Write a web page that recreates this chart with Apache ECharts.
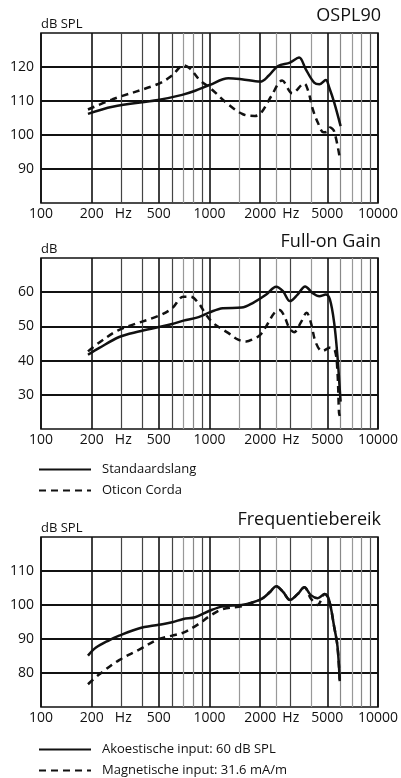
<!DOCTYPE html>
<html><head><meta charset="utf-8">
<script src="https://cdn.jsdelivr.net/npm/echarts@6/dist/echarts.min.js"></script>
<style>html,body{margin:0;padding:0;background:#fff}#c{width:401px;height:778px}</style>
</head><body><div id="c"></div>
<script>
// ---- axis ticks (Hz) ----
const freqTicks = [100, 200, 500, 1000, 2000, 5000, 10000];
const tickLabels = ['100', '200', '500', '1000', '2000', '5000', '10000'];
const minorGridHz = [300, 400, 600, 700, 800, 900, 1500, 2500, 3000, 4000, 6000, 7000, 8000, 9000];
const minorGridColors = ['#444','#444','#444','#999','#888','#444','#999','#999','#444','#999','#888','#999','#888','#555'];

// ---- titles ----
const titles = ['OSPL90', 'Full-on Gain', 'Frequentiebereik'];
const yUnits = ['dB SPL', 'dB', 'dB SPL'];
const yRanges = [[80, 130], [20, 70], [70, 120]];
const yTickValues = [[90, 100, 110, 120], [30, 40, 50, 60], [80, 90, 100, 110]];

// ---- legends ----
const legendTop = ['Standaardslang', 'Oticon Corda'];
const legendBottom = ['Akoestische input: 60 dB SPL', 'Magnetische input: 31.6 mA/m'];

// ---- OSPL90 ----
const osplStdHz = [190, 266, 495, 688, 822, 1000, 1294, 1550, 2000, 2250, 2550, 3000, 3400, 3730, 4180, 4490, 4900, 5140, 5500, 6000];
const osplStdDb = [106.2, 108.3, 110.3, 111.8, 113, 114.7, 116.7, 116.4, 115.7, 117.5, 120.3, 121.3, 122.8, 119.3, 115.4, 114.9, 116.2, 113.9, 109.5, 102.6];
const osplCordaHz = [190, 266, 495, 600, 700, 767, 880, 1000, 1294, 1580, 1860, 2030, 2330, 2700, 3100, 3650, 3850, 4100, 4400, 4750, 5000, 5200, 5500, 5950];
const osplCordaDb = [107.5, 110.5, 115, 117.5, 120.5, 119.5, 116, 114, 109, 106.1, 105.6, 106.6, 111.5, 116, 112.3, 115.1, 113, 107.6, 103.6, 100.8, 101, 102.2, 101, 92.8];

// ---- Full-on Gain ----
const gainStdHz = [190, 222, 291, 380, 500, 600, 700, 861, 1000, 1200, 1550, 1815, 2173, 2485, 2728, 3003, 3333, 3695, 4080, 4488, 4900, 5180, 5493, 5747, 5930, 6000];
const gainStdDb = [41.7, 43.7, 46.9, 48.5, 49.8, 50.7, 51.7, 52.7, 54.1, 55.3, 55.5, 56.9, 59.3, 61.6, 60.3, 57.4, 59.3, 61.7, 59.8, 58.8, 59.3, 57.9, 51.1, 41.3, 31.6, 28];
const gainCordaHz = [190, 222, 291, 500, 600, 700, 770, 861, 940, 1050, 1290, 1480, 1650, 1815, 2000, 2173, 2430, 2600, 2780, 2970, 3180, 3480, 3770, 3995, 4280, 4670, 5220, 5560, 5750, 5870, 5930];
const gainCordaDb = [42.7, 45.3, 49, 53.1, 55.3, 58.7, 58.7, 56.8, 53.9, 51, 48.1, 46.1, 45.6, 46.3, 47.5, 50.1, 54, 54.8, 53, 49.6, 48.3, 51.1, 54, 51.1, 45.2, 42.8, 43.8, 42.8, 36.5, 24.8, 23.8];

// ---- Frequentiebereik ----
const freqAcHz = [190, 212, 255, 291, 380, 500, 600, 700, 822, 1000, 1200, 1550, 1815, 2070, 2295, 2485, 2728, 3003, 3333, 3655, 3995, 4380, 4830, 5120, 5490, 5750, 5930];
const freqAcDb = [85.1, 87.5, 89.7, 91, 93.1, 94.2, 94.9, 95.9, 96.4, 98.3, 99.6, 100, 100.8, 102, 103.9, 105.5, 103.9, 101.5, 103.2, 105.2, 102.9, 102, 103.2, 101.5, 93.7, 87.8, 77.6];
const freqMagHz = [190, 222, 291, 380, 500, 600, 700, 861, 1000, 1200, 1550, 1815, 2070, 2295, 2485, 2728, 3003, 3333, 3655, 3995, 4380, 4830, 5120, 5490, 5750, 5930];
const freqMagDb = [76.7, 79.6, 83.8, 86.8, 90, 91, 91.9, 94.4, 96.7, 98.8, 99.6, 100.8, 102, 103.9, 105.5, 103.9, 101.5, 103.2, 105.2, 101.9, 100, 103.2, 101.5, 93.7, 87.8, 77.6];

const lg = v => Math.round(Math.log10(v) * 1e9) / 1e9;
const FONT = 'Open Sans';
const TXT = '#111';

const grids = [
  { left: 41, top: 33, width: 340, height: 170 },
  { left: 41, top: 258, width: 340, height: 171 },
  { left: 41, top: 537, width: 340, height: 170 }
];
const titleTops = [7, 233, 511];

function xLabel(v) {
  const f = Math.round(Math.pow(10, v));
  const i = freqTicks.indexOf(f);
  const t = i >= 0 ? tickLabels[i] : '';
  if (f === 200) return '{p1|}{n|' + t + '}{h1|Hz}';
  if (f === 2000) return '{p2|}{n|' + t + '}{h2|Hz}';
  return '{n|' + t + '}';
}
const rich = {
  n: { fontSize: 14, fontFamily: FONT, color: TXT },
  p1: { width: 28, fontSize: 14 },
  h1: { width: 28, align: 'right', fontSize: 14, fontFamily: FONT, color: TXT },
  p2: { width: 23, fontSize: 14 },
  h2: { width: 23, align: 'right', fontSize: 14, fontFamily: FONT, color: TXT }
};

const xAxes = [], yAxes = [];
grids.forEach((g, gi) => {
  xAxes.push({
    type: 'value', gridIndex: gi, min: 2, max: 4, position: 'bottom',
    axisLine: { show: false },
    axisTick: { show: false, customValues: minorGridHz.map(lg) },
    axisLabel: { show: false },
    splitLine: { show: true, lineStyle: { color: minorGridColors, width: 1.2 } }
  });
  xAxes.push({
    type: 'value', gridIndex: gi, min: 2, max: 4, position: 'bottom',
    axisLine: { show: false },
    axisTick: { show: false, customValues: freqTicks.map(lg) },
    axisLabel: { show: true, customValues: freqTicks.map(lg), formatter: xLabel, rich: rich, margin: 4,
      fontSize: 14, fontFamily: FONT, color: TXT },
    splitLine: { show: true, lineStyle: { color: '#111', width: 1.6 } }
  });
  yAxes.push({
    type: 'value', gridIndex: gi, min: yRanges[gi][0], max: yRanges[gi][1], interval: 10,
    name: yUnits[gi], nameLocation: 'end', nameGap: 2,
    nameTextStyle: { align: 'left', verticalAlign: 'bottom', fontSize: 13, fontFamily: FONT, color: TXT },
    axisLine: { show: false },
    axisTick: { show: false, customValues: yTickValues[gi] },
    axisLabel: { customValues: yTickValues[gi], margin: 7, fontSize: 14, fontFamily: FONT, color: TXT },
    splitLine: { show: true, lineStyle: { color: '#111', width: 1.8 } }
  });
});

function mk(name, hz, db, gi, dashed) {
  return {
    type: 'line', name: name, xAxisIndex: gi * 2 + 1, yAxisIndex: gi,
    data: hz.map((f, i) => [Math.log10(f), db[i]]),
    smooth: 0.35, symbol: 'none', silent: true, z: 5,
    itemStyle: { color: '#111' },
    lineStyle: { color: '#111', width: 2.5, type: dashed ? [7, 5] : 'solid' }
  };
}

const series = [
  mk(legendTop[0], osplStdHz, osplStdDb, 0, false),
  mk(legendTop[1], osplCordaHz, osplCordaDb, 0, true),
  mk(legendTop[0], gainStdHz, gainStdDb, 1, false),
  mk(legendTop[1], gainCordaHz, gainCordaDb, 1, true),
  mk(legendBottom[0], freqAcHz, freqAcDb, 2, false),
  mk(legendBottom[1], freqMagHz, freqMagDb, 2, true)
];

const legendCommon = {
  orient: 'vertical', left: 38, itemWidth: 52, itemHeight: 12, itemGap: 8, padding: 0,
  selectedMode: false,
  itemStyle: { opacity: 0 },
  textStyle: { fontSize: 13, fontFamily: FONT, color: TXT, padding: [0, 0, 0, 6] }
};

const chart = echarts.init(document.getElementById('c'), null, { renderer: 'canvas' });
chart.setOption({
  animation: false,
  backgroundColor: '#fff',
  title: titles.map((t, i) => ({
    text: t, right: 20, top: titleTops[i], padding: 0,
    textStyle: { fontSize: 18, fontWeight: 'normal', fontFamily: FONT, color: TXT }
  })),
  legend: [
    Object.assign({ top: 463, data: legendTop }, legendCommon),
    Object.assign({ top: 743, data: legendBottom }, legendCommon)
  ],
  grid: grids.map(g => Object.assign({ show: true, borderColor: '#111', borderWidth: 1.6, backgroundColor: 'transparent' }, g)),
  xAxis: xAxes,
  yAxis: yAxes,
  series: series
});
</script></body></html>
